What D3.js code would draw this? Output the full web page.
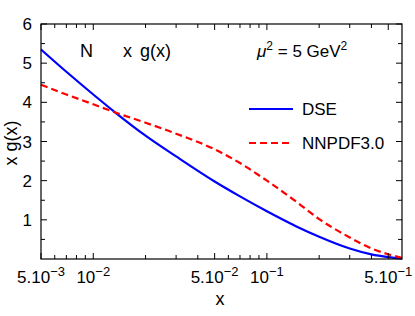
<html lang="en">
<head>
<meta charset="UTF-8">
<script src="https://d3js.org/d3.v7.min.js"></script>
<style>
  body { margin: 0; background: #fff; }
  text { font-family: "Liberation Sans", Arial, sans-serif; fill: #000; }
</style>
</head>
<body>
<script type="text/javascript">

// x values shared by both curves
let xs = [0.005, 0.007, 0.01, 0.0134, 0.02, 0.03, 0.05, 0.07, 0.1, 0.15, 0.2, 0.3, 0.4, 0.5, 0.6];
let dse = [5.35, 4.78, 4.2, 3.74, 3.15, 2.62, 1.98, 1.6, 1.22, 0.82, 0.57, 0.27, 0.12, 0.05, 0.01];
let nnpdf = [4.45, 4.2, 3.95, 3.74, 3.48, 3.2, 2.8, 2.45, 2.0, 1.44, 1.02, 0.55, 0.27, 0.12, 0.03];

let majorX = [0.005, 0.01, 0.05, 0.1, 0.5];
let majorXLabels = [["5.10", "\u22123"], ["10", "\u22122"], ["5.10", "\u22122"], ["10", "\u22121"], ["5.10", "\u22121"]];
let minorX = [0.006, 0.007, 0.008, 0.009, 0.02, 0.03, 0.04, 0.06, 0.07, 0.08, 0.09, 0.2, 0.3, 0.4];
let yTicks = [1, 2, 3, 4, 5, 6];
let yMinor = [0.5, 1.5, 2.5, 3.5, 4.5, 5.5];

let width = 415, height = 316;
let margin = {left: 41, right: 13, top: 24, bottom: 57};

let svg = d3.select('body').append('svg')
    .attr('width', width)
    .attr('height', height);

let x = d3.scaleLog().domain([0.005, 0.6]).range([margin.left, width - margin.right]);
let y = d3.scaleLinear().domain([0, 6]).range([height - margin.bottom, margin.top]);

let x0 = x.range()[0], x1 = x.range()[1];
let y0 = y.range()[0], y1 = y.range()[1];

// curves
let line = d3.line().curve(d3.curveMonotoneX);

svg.append('path')
    .attr('d', line(xs.map((v, i) => [x(v), y(dse[i])])))
    .attr('fill', 'none')
    .attr('stroke', '#0000ff')
    .attr('stroke-width', 2.2);

svg.append('path')
    .attr('d', line(xs.map((v, i) => [x(v), y(nnpdf[i])])))
    .attr('fill', 'none')
    .attr('stroke', '#ff0000')
    .attr('stroke-width', 2.2)
    .attr('stroke-dasharray', '7,4');

// frame
svg.append('rect')
    .attr('x', x0).attr('y', y1)
    .attr('width', x1 - x0).attr('height', y0 - y1)
    .attr('fill', 'none').attr('stroke', '#000').attr('stroke-width', 1.2);

let ticks = svg.append('g').attr('stroke', '#000').attr('stroke-width', 1);

majorX.concat(minorX).forEach(function(v) {
    let len = minorX.includes(v) ? 4 : 6;
    ticks.append('line').attr('x1', x(v)).attr('x2', x(v)).attr('y1', y0).attr('y2', y0 - len);
    ticks.append('line').attr('x1', x(v)).attr('x2', x(v)).attr('y1', y1).attr('y2', y1 + len);
});
yTicks.concat(yMinor).forEach(function(v) {
    let len = yMinor.includes(v) ? 4 : 6;
    ticks.append('line').attr('x1', x0).attr('x2', x0 + len).attr('y1', y(v)).attr('y2', y(v));
    ticks.append('line').attr('x1', x1).attr('x2', x1 - len).attr('y1', y(v)).attr('y2', y(v));
});

// tick labels
majorX.forEach(function(v, i) {
    let t = svg.append('text')
        .attr('x', x(v)).attr('y', y0 + 24)
        .attr('text-anchor', 'middle')
        .attr('font-size', 17);
    t.append('tspan').text(majorXLabels[i][0]);
    t.append('tspan').attr('dy', -7).attr('font-size', 13).text(majorXLabels[i][1]);
});

yTicks.forEach(function(v) {
    svg.append('text')
        .attr('x', x0 - 9).attr('y', y(v) + 6)
        .attr('text-anchor', 'end')
        .attr('font-size', 17)
        .text(v);
});

// axis titles
svg.append('text')
    .attr('x', 220).attr('y', 305)
    .attr('text-anchor', 'middle')
    .attr('font-size', 18)
    .text('x');

svg.append('text')
    .attr('transform', 'translate(17,143) rotate(-90)')
    .attr('text-anchor', 'middle')
    .attr('font-size', 18)
    .text('x g(x)');

// annotations
svg.append('text').attr('x', 80).attr('y', 57).attr('font-size', 18).text('N');
svg.append('text').attr('x', 123).attr('y', 57).attr('font-size', 18).text('x');
svg.append('text').attr('x', 140).attr('y', 57).attr('font-size', 18).text('g(x)');

let mu = svg.append('text').attr('x', 257).attr('y', 57).attr('font-size', 17);
mu.append('tspan').attr('font-style', 'italic').text('\u03bc');
mu.append('tspan').attr('dy', -7).attr('font-size', 12).text('2');
mu.append('tspan').attr('dy', 7).text(' = 5 GeV');
mu.append('tspan').attr('dy', -7).attr('font-size', 12).text('2');

// legend
let legend = [
    {name: 'DSE', color: '#0000ff', dash: null, yy: 109},
    {name: 'NNPDF3.0', color: '#ff0000', dash: '7,4', yy: 143}
];
legend.forEach(function(d) {
    svg.append('line')
        .attr('x1', 249).attr('x2', 293)
        .attr('y1', d.yy).attr('y2', d.yy)
        .attr('stroke', d.color).attr('stroke-width', 2.2)
        .attr('stroke-dasharray', d.dash);
    svg.append('text')
        .attr('x', 302).attr('y', d.yy + 6)
        .attr('font-size', 17)
        .text(d.name);
});
</script>
</body>
</html>
